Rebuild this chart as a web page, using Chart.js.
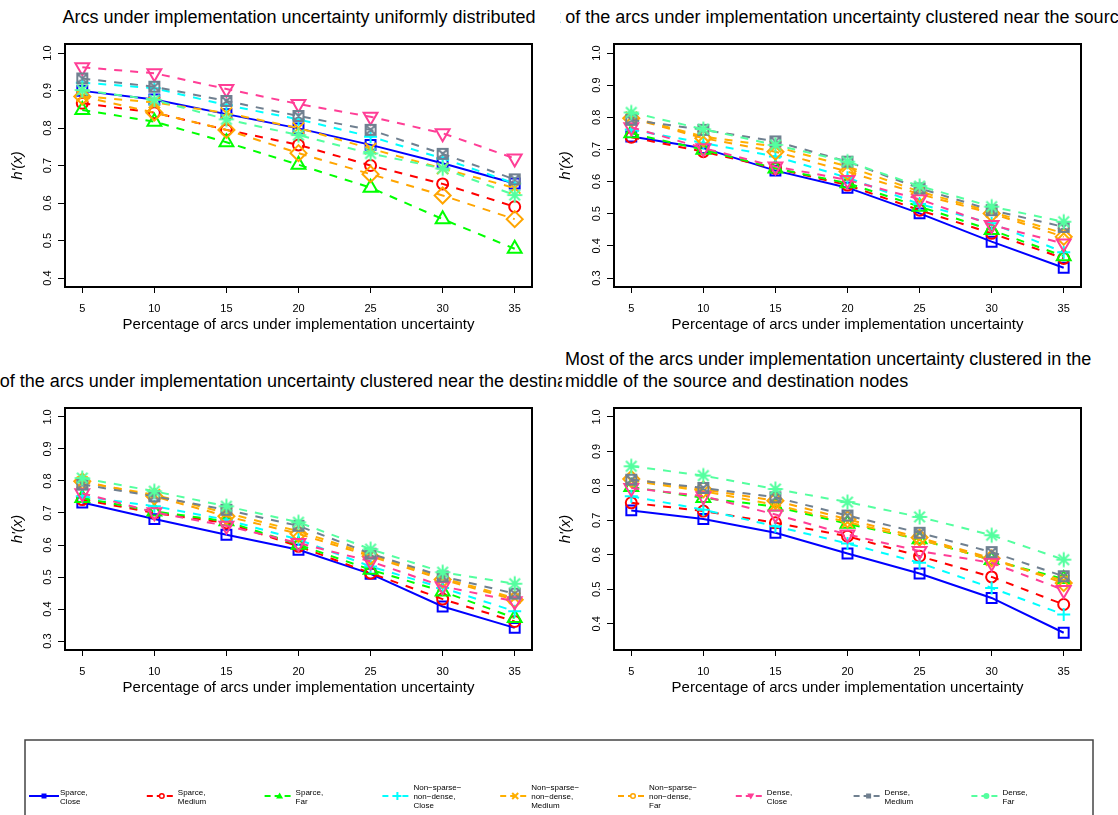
<!DOCTYPE html>
<html>
<head>
<meta charset="utf-8">
<script src="https://cdn.jsdelivr.net/npm/chart.js@4.4.1/dist/chart.umd.min.js"></script>
<style>
  body { margin: 0; background: #fff; width: 1118px; height: 815px; overflow: hidden; position: relative;
         font-family: "Liberation Sans", Arial, sans-serif; }
  .clip { position: absolute; overflow: hidden; }
  .ttl { position: absolute; white-space: nowrap; font-size: 18px; line-height: 22px; color: #000; }
  canvas { position: absolute; }
</style>
</head>
<body>
<div class="clip" style="left:0;top:0;width:562px;height:40px">
  <div class="ttl" style="left:299px;top:6px;transform:translateX(-50%)">Arcs under implementation uncertainty uniformly distributed</div>
</div>
<div class="clip" style="left:560px;top:0;width:558px;height:40px">
  <div class="ttl" style="left:292px;top:6px;transform:translateX(-50%)">Most of the arcs under implementation uncertainty clustered near the source nodes</div>
</div>
<div class="clip" style="left:0;top:340px;width:562px;height:54px">
  <div class="ttl" style="left:303px;top:30px;transform:translateX(-50%)">Most of the arcs under implementation uncertainty clustered near the destination nodes</div>
</div>
<div class="clip" style="left:562px;top:340px;width:556px;height:54px">
  <div class="ttl" style="left:3px;top:8px">Most of the arcs under implementation uncertainty clustered in the</div>
  <div class="ttl" style="left:3px;top:30px">middle of the source and destination nodes</div>
</div>

<canvas id="p1" width="559" height="310" style="left:0;top:30px"></canvas>
<canvas id="p2" width="559" height="310" style="left:559px;top:30px"></canvas>
<canvas id="p3" width="559" height="309" style="left:0;top:394px"></canvas>
<canvas id="p4" width="559" height="309" style="left:559px;top:394px"></canvas>
<canvas id="legend" width="1118" height="85" style="left:0;top:730px"></canvas>

<script>
const FONT = '"Liberation Sans", Arial, sans-serif';

// x values (percentage of arcs under implementation uncertainty)
const xValues = [5, 10, 15, 20, 25, 30, 35];
const xTicks = [5, 10, 15, 20, 25, 30, 35];

const seriesNames = [
  ['Sparce,', 'Close'], ['Sparce,', 'Medium'], ['Sparce,', 'Far'],
  ['Non\u2212sparse\u2212', 'non\u2212dense,', 'Close'], ['Non\u2212sparse\u2212', 'non\u2212dense,', 'Medium'],
  ['Non\u2212sparse\u2212', 'non\u2212dense,', 'Far'],
  ['Dense,', 'Close'], ['Dense,', 'Medium'], ['Dense,', 'Far']
];
const seriesColors = ['#0000FF', '#FF0000', '#00FF00', '#00FFFF', '#FFB000', '#FFA500', '#FF3E96', '#708090', '#54FF9F'];

// values per panel, in legend order
const uniformValues = [
  [0.899, 0.876, 0.837, 0.799, 0.755, 0.706, 0.652],
  [0.866, 0.841, 0.795, 0.755, 0.700, 0.651, 0.590],
  [0.848, 0.817, 0.762, 0.702, 0.641, 0.557, 0.478],
  [0.921, 0.906, 0.861, 0.823, 0.777, 0.719, 0.652],
  [0.885, 0.868, 0.840, 0.800, 0.745, 0.692, 0.640],
  [0.884, 0.841, 0.795, 0.733, 0.677, 0.620, 0.557],
  [0.962, 0.946, 0.904, 0.864, 0.830, 0.786, 0.719],
  [0.932, 0.910, 0.872, 0.832, 0.795, 0.731, 0.663],
  [0.901, 0.875, 0.823, 0.781, 0.732, 0.692, 0.621]
];
const sourceValues = [
  [0.740, 0.704, 0.634, 0.581, 0.501, 0.413, 0.332],
  [0.738, 0.693, 0.641, 0.589, 0.511, 0.439, 0.361],
  [0.750, 0.699, 0.641, 0.595, 0.522, 0.449, 0.368],
  [0.762, 0.720, 0.678, 0.612, 0.530, 0.470, 0.380],
  [0.800, 0.740, 0.709, 0.647, 0.569, 0.506, 0.439],
  [0.797, 0.735, 0.693, 0.631, 0.561, 0.501, 0.428],
  [0.769, 0.704, 0.647, 0.605, 0.545, 0.465, 0.407],
  [0.792, 0.761, 0.725, 0.662, 0.579, 0.511, 0.459],
  [0.815, 0.763, 0.714, 0.662, 0.586, 0.522, 0.475]
];
const destValues = [
  [0.733, 0.681, 0.632, 0.585, 0.510, 0.408, 0.341],
  [0.742, 0.700, 0.669, 0.596, 0.512, 0.431, 0.361],
  [0.747, 0.705, 0.674, 0.601, 0.523, 0.455, 0.372],
  [0.752, 0.721, 0.679, 0.617, 0.533, 0.466, 0.393],
  [0.796, 0.757, 0.700, 0.643, 0.570, 0.497, 0.434],
  [0.799, 0.752, 0.690, 0.635, 0.565, 0.492, 0.429],
  [0.762, 0.702, 0.660, 0.606, 0.549, 0.471, 0.424],
  [0.789, 0.752, 0.710, 0.660, 0.573, 0.502, 0.448],
  [0.809, 0.768, 0.721, 0.671, 0.587, 0.515, 0.479]
];
const middleValues = [
  [0.729, 0.704, 0.664, 0.604, 0.546, 0.475, 0.374],
  [0.751, 0.727, 0.693, 0.654, 0.596, 0.536, 0.456],
  [0.797, 0.765, 0.740, 0.690, 0.645, 0.585, 0.530],
  [0.770, 0.731, 0.683, 0.633, 0.577, 0.504, 0.427],
  [0.815, 0.785, 0.745, 0.695, 0.645, 0.585, 0.525],
  [0.820, 0.790, 0.757, 0.703, 0.650, 0.590, 0.518],
  [0.794, 0.770, 0.717, 0.659, 0.611, 0.577, 0.498],
  [0.818, 0.794, 0.767, 0.714, 0.664, 0.608, 0.538],
  [0.857, 0.830, 0.791, 0.753, 0.710, 0.657, 0.586]
];

const uniformTicks = [0.4, 0.5, 0.6, 0.7, 0.8, 0.9, 1.0];
const sourceTicks = [0.3, 0.4, 0.5, 0.6, 0.7, 0.8, 0.9, 1.0];
const destTicks = [0.3, 0.4, 0.5, 0.6, 0.7, 0.8, 0.9, 1.0];
const middleTicks = [0.4, 0.5, 0.6, 0.7, 0.8, 0.9, 1.0];

// custom R-like markers (square with x, asterisk)
function makeMarker(color, kind) {
  const c = document.createElement('canvas');
  c.width = 18; c.height = 18;
  const g = c.getContext('2d');
  g.strokeStyle = color; g.lineWidth = 2;
  g.beginPath();
  if (kind === 'boxX') {
    g.rect(4, 4, 10, 10);
    g.moveTo(4, 4); g.lineTo(14, 14);
    g.moveTo(14, 4); g.lineTo(4, 14);
  } else {
    g.moveTo(9, 1.5); g.lineTo(9, 16.5);
    g.moveTo(1.5, 9); g.lineTo(16.5, 9);
    g.moveTo(3.7, 3.7); g.lineTo(14.3, 14.3);
    g.moveTo(14.3, 3.7); g.lineTo(3.7, 14.3);
  }
  g.stroke();
  return c;
}

const pointStyles = ['rect', 'circle', 'triangle', 'cross', 'crossRot', 'rectRot', 'triangle',
  makeMarker(seriesColors[7], 'boxX'), makeMarker(seriesColors[8], 'star')];
const pointRadii = [7, 5.5, 8, 6.5, 8, 8, 8, 9, 9];
const pointRotations = [0, 0, 0, 0, 0, 0, 180, 0, 0];

const boxPlugin = {
  id: 'box',
  afterDraw(chart) {
    const { ctx, chartArea: a } = chart;
    ctx.save();
    ctx.strokeStyle = '#000';
    ctx.lineWidth = 2;
    ctx.strokeRect(a.left, a.top, a.right - a.left, a.bottom - a.top);
    ctx.restore();
  }
};

function makePanel(id, values, yTicks, yMin, yMax, geo) {
  const datasets = values.map((vals, i) => ({
    label: seriesNames[i].join(' '),
    data: xValues.map((x, j) => ({ x: x, y: vals[j] })),
    showLine: true,
    borderColor: seriesColors[i],
    borderWidth: 2,
    borderDash: i === 0 ? [] : [8, 8],
    pointStyle: pointStyles[i],
    pointRadius: pointRadii[i],
    pointRotation: pointRotations[i],
    pointBorderColor: seriesColors[i],
    pointBackgroundColor: 'rgba(0,0,0,0)',
    pointBorderWidth: 2,
    order: 8 - i
  }));

  new Chart(document.getElementById(id), {
    type: 'scatter',
    data: { datasets },
    options: {
      responsive: false,
      animation: false,
      events: [],
      layout: { padding: { left: 0, right: geo.right, top: 14, bottom: 0 } },
      plugins: { legend: { display: false }, tooltip: { enabled: false } },
      scales: {
        x: {
          type: 'linear', min: 3.8, max: 36.2,
          afterBuildTicks: s => { s.ticks = xTicks.map(v => ({ value: v })); },
          afterFit: s => { s.height = geo.xh; },
          grid: { display: true, drawOnChartArea: false, drawTicks: true, tickLength: 6, color: '#000', lineWidth: 1 },
          border: { display: false },
          ticks: { padding: 9, color: '#000', font: { size: 11, family: FONT }, callback: v => String(v), maxRotation: 0 },
          title: { display: true, text: 'Percentage of arcs under implementation uncertainty', color: '#000',
                   font: { size: 15, family: FONT }, padding: { top: 0, bottom: 6 } }
        },
        y: {
          type: 'linear', min: yMin, max: yMax,
          afterBuildTicks: s => { s.ticks = yTicks.map(v => ({ value: v })); },
          afterFit: s => { s.width = geo.yw; },
          grid: { display: true, drawOnChartArea: false, drawTicks: true, tickLength: 7, color: '#000', lineWidth: 1 },
          border: { display: false },
          ticks: { minRotation: 90, maxRotation: 90, crossAlign: 'center', padding: 2, color: '#000',
                   font: { size: 11, family: FONT }, callback: v => v.toFixed(1) },
          title: { display: true, text: "h'(x)", color: '#000',
                   font: { size: 15, style: 'italic', family: FONT }, padding: { top: geo.yt, bottom: 0 } }
        }
      }
    },
    plugins: [boxPlugin]
  });
}

makePanel('p1', uniformValues, uniformTicks, 0.376, 1.024, { right: 27, xh: 53, yw: 65, yt: 9 });
makePanel('p2', sourceValues, sourceTicks, 0.272, 1.028, { right: 37, xh: 53, yw: 55, yt: -2 });
makePanel('p3', destValues, destTicks, 0.272, 1.028, { right: 27, xh: 53, yw: 65, yt: 9 });
makePanel('p4', middleValues, middleTicks, 0.324, 1.026, { right: 37, xh: 53, yw: 55, yt: -2 });

// legend box along the bottom
(function drawLegend() {
  const c = document.getElementById('legend');
  const g = c.getContext('2d');
  g.strokeStyle = '#444';
  g.lineWidth = 1.5;
  g.strokeRect(25, 10, 1068, 120);
  const lineY = 66;
  g.font = '8px ' + FONT;
  g.textBaseline = 'middle';
  seriesNames.forEach((lines, i) => {
    const tx = 60 + i * 117.8;
    const col = seriesColors[i];
    const mx = tx - 16;
    g.save();
    g.strokeStyle = col; g.fillStyle = col; g.lineWidth = 2;
    g.setLineDash(i === 0 ? [] : [6, 4]);
    g.beginPath();
    g.moveTo(tx - 31, lineY);
    g.lineTo(i === 0 ? tx - 1 : tx - 4, lineY);
    g.stroke();
    g.setLineDash([]);
    g.beginPath();
    if (i === 0 || i === 7) {
      g.fillRect(mx - 2.5, lineY - 2.5, 5, 5);
    } else if (i === 1 || i === 5) {
      g.fillStyle = '#fff';
      g.arc(mx, lineY, 2.3, 0, Math.PI * 2); g.fill(); g.lineWidth = 1.5; g.stroke();
    } else if (i === 2) {
      g.moveTo(mx, lineY - 3.5); g.lineTo(mx + 3.5, lineY + 2.5); g.lineTo(mx - 3.5, lineY + 2.5); g.closePath(); g.fill();
    } else if (i === 6) {
      g.moveTo(mx, lineY + 3.5); g.lineTo(mx + 3.5, lineY - 2.5); g.lineTo(mx - 3.5, lineY - 2.5); g.closePath(); g.fill();
    } else if (i === 3) {
      g.moveTo(mx - 4, lineY); g.lineTo(mx + 4, lineY); g.moveTo(mx, lineY - 4); g.lineTo(mx, lineY + 4); g.stroke();
    } else if (i === 4) {
      g.moveTo(mx - 3, lineY - 3); g.lineTo(mx + 3, lineY + 3); g.moveTo(mx + 3, lineY - 3); g.lineTo(mx - 3, lineY + 3); g.stroke();
    } else {
      g.arc(mx, lineY, 3, 0, Math.PI * 2); g.fill();
    }
    g.restore();
    g.fillStyle = '#000';
    const y0 = 67 - (lines.length - 1) * 4.5;
    lines.forEach((t, k) => g.fillText(t, tx, y0 + k * 9));
  });
})();
</script>
</body>
</html>
